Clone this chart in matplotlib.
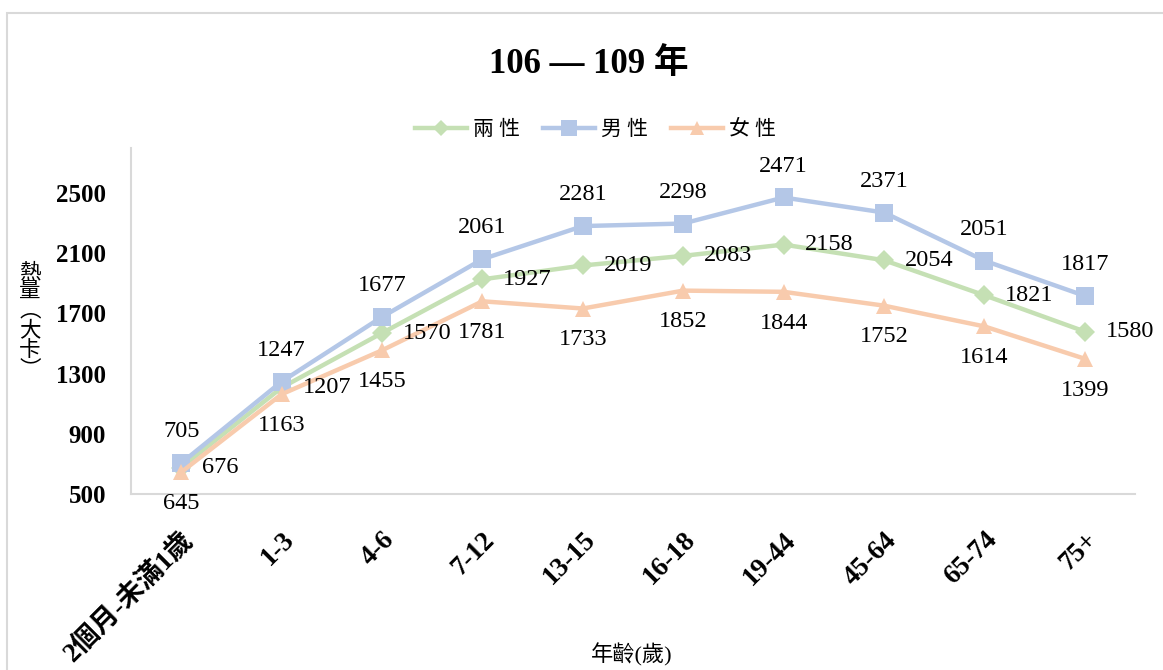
import matplotlib
matplotlib.use("Agg")
import matplotlib.pyplot as plt
from matplotlib.lines import Line2D
from matplotlib.patches import Rectangle

plt.rcParams["font.family"] = ["Liberation Serif", "Noto Sans CJK TC", "DejaVu Sans"]

age_groups = ["2個月-未滿1歲", "1-3", "4-6", "7-12", "13-15", "16-18",
              "19-44", "45-64", "65-74", "75+"]
both_sexes = [676, 1207, 1570, 1927, 2019, 2083, 2158, 2054, 1821, 1580]
male = [705, 1247, 1677, 2061, 2281, 2298, 2471, 2371, 2051, 1817]
female = [645, 1163, 1455, 1781, 1733, 1852, 1844, 1752, 1614, 1399]
y_ticks = [500, 900, 1300, 1700, 2100, 2500]

series = [
    ("兩性", both_sexes, "#C5E0B4", "D", 10, (15, 0), "left", "center"),
    ("男性", male, "#B4C7E7", "s", 13, (0, 15), "center", "bottom"),
    ("女性", female, "#F8CBAD", "^", 12, (0, -15), "center", "top"),
]

fig = plt.figure(figsize=(11.63, 6.70), dpi=100)
fig.patch.set_facecolor("white")
fig.add_artist(Rectangle((7 / 1163, -0.05), 1.2, 1 - 13 / 670 + 0.05,
                         transform=fig.transFigure, fill=False,
                         edgecolor="#D9D9D9", linewidth=1.5))

ax = fig.add_axes([131 / 1163, 1 - 494 / 670, 1004 / 1163, 346 / 670])
x = list(range(len(age_groups)))

handles = []
for name, values, color, marker, msize, offset, ha, va in series:
    ax.plot(x, values, color=color, linewidth=3.2, marker=marker,
            markersize=msize, markeredgewidth=0, solid_capstyle="round")
    for xi, v in zip(x, values):
        ax.annotate(str(v), (xi, v), xytext=offset, textcoords="offset points",
                    ha=ha, va=va, fontsize=17.5, family="Liberation Serif")
    handles.append(Line2D([], [], color=color, linewidth=3.2, marker=marker,
                          markersize=msize * 0.85, markeredgewidth=0,
                          label=" ".join(name)))

ax.set_xlim(-0.5, len(age_groups) - 0.5)
ax.set_ylim(500, 2800)
ax.set_yticks(y_ticks)
ax.set_yticklabels([str(t) for t in y_ticks], fontsize=18, fontweight="bold")
ax.set_xticks(x)
ax.set_xticklabels(age_groups, fontsize=19.5, fontweight="bold",
                   rotation=45, ha="right", rotation_mode="anchor")
ax.tick_params(axis="both", length=0)
ax.tick_params(axis="y", pad=18)
ax.tick_params(axis="x", pad=24)
for side in ("top", "right"):
    ax.spines[side].set_visible(False)
for side in ("left", "bottom"):
    ax.spines[side].set_color("#D9D9D9")
    ax.spines[side].set_linewidth(1.5)

fig.text(0.506, 1 - 65 / 670, "106 — 109 年", ha="center", va="center",
         fontsize=25, fontweight="bold")
fig.legend(handles=handles, loc="center", bbox_to_anchor=(0.512, 1 - 130 / 670),
           ncol=3, frameon=False, fontsize=15, handlelength=2.5,
           columnspacing=1.1, handletextpad=0.3)

fig.text(30 / 1163, 1 - 322 / 670, "熱\n量\n︵\n大\n卡\n︶", ha="center",
         va="center", fontsize=15.5, linespacing=1.0)
fig.text(632 / 1163, 1 - 655 / 670, "年齡(歲)", ha="center", va="center",
         fontsize=16)

fig.savefig("out.png", dpi=100)
